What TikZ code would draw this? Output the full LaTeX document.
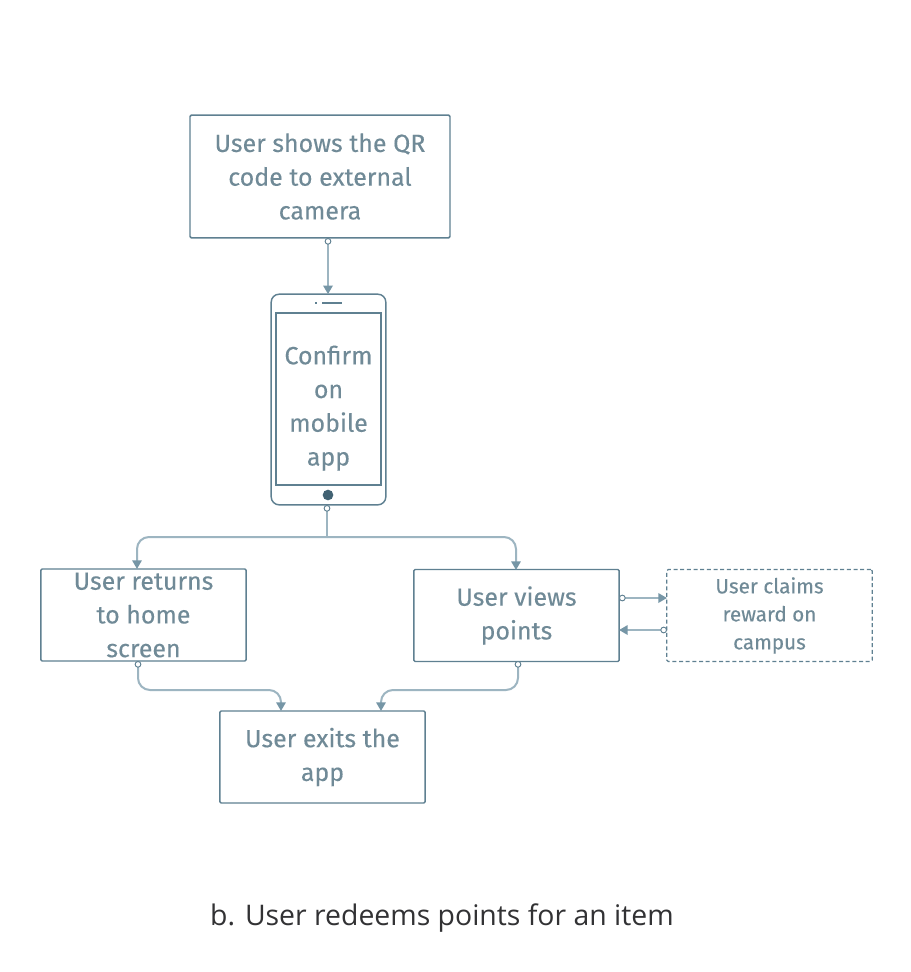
\documentclass[tikz,border=0pt]{standalone}
\usepackage{fontspec}
\setmainfont[FakeBold=0.2,AutoFakeBold=false]{Fira Sans}
\newfontfamily\captionfont{Open Sans}
\definecolor{edge}{RGB}{95,128,145}
\definecolor{wire}{RGB}{157,181,193}
\definecolor{tipc}{RGB}{118,150,166}
\definecolor{label}{RGB}{112,138,151}
\definecolor{ink}{RGB}{50,50,52}
\definecolor{knob}{RGB}{66,98,115}
\usetikzlibrary{arrows.meta,positioning,calc}
\tikzset{
  box/.style={draw=edge, rounded corners=1pt, line width=1.1pt, outer sep=0pt, inner sep=0pt,
              text=label, align=center, font=\fontsize{18.7}{25.3}\selectfont,
              minimum width=154pt, minimum height=69pt},
  ghost/.style={box, densely dashed, line width=0.9pt, font=\fontsize{15.5}{21}\selectfont},
  wireline/.style={wire, line width=1.5pt, rounded corners=9pt},
  flow/.style={wireline, {Circle[open,fill=white,length=5pt,width=5pt,color=edge,line width=0.7pt]}-{Triangle[length=6.5pt,width=7pt,color=tipc]}},
  branch/.style={wireline, -{Triangle[length=6.5pt,width=7pt,color=tipc]}},
}
\begin{document}
\begin{tikzpicture}[x=0.75pt,y=-0.75pt]
    \useasboundingbox[fill=white] (0,0) rectangle (911,972);
    \node[box,minimum width=195pt,minimum height=92pt] (qr) at (320,176.5) {User shows the QR\\ code to external\\ camera};
    \node[box,minimum width=86pt,minimum height=158pt,rounded corners=6pt] (phone) at (328.5,399.5) {};
    \node[box,minimum width=79pt,minimum height=129pt,rounded corners=0pt,text depth=0pt] (screen) at (328.5,399) {\\[-1.5pt]Confirm\\ on\\ mobile\\ app};
    \node[circle,fill=knob,minimum size=8pt,inner sep=0pt] (knobc) at (328,495) {};
    \coordinate (ear1) at (322,303);
    \coordinate (ear2) at (342,303);
    \coordinate (dot1) at (315,303);
    \coordinate (dot2) at (317,303);
    \draw[edge,line width=0.8pt] (ear1) -- (ear2);
    \draw[edge,line width=0.8pt] (dot1) -- (dot2);
    \node[box] (home) at (143.5,615) {User returns\\ to home\\ screen};
    \node[box] (views) at (516.5,615.5) {User views\\ points};
    \node[ghost] (claim) at (769.5,615.5) {User claims\\ reward on\\ campus};
    \node[box] (exit) at (322.5,757) {User exits the\\ app};
    \node[font=\captionfont\fontsize{21.3}{26}\selectfont,text=ink] (cap) at (442,918.5) {b. User redeems points for an item};
    \coordinate (homein) at (137,569);
    \coordinate (viewsin) at (516,570);
    \coordinate (homeout) at (138,661);
    \coordinate (viewsout) at (518,661);
    \coordinate (exitl) at (281,711);
    \coordinate (exitr) at (381,711);
    \coordinate (phoneout) at (327,505);
    \coordinate (fork) at (327,537);
    \coordinate (qrout) at (328,238);
    \coordinate (v1) at (619,598);
    \coordinate (c1) at (667,598);
    \coordinate (c2) at (667,630);
    \coordinate (v2) at (619,630);
    \draw[flow,line width=2pt] (qrout) -- (phone.north -| qrout);
    \draw[wireline,{Circle[open,fill=white,length=5pt,width=5pt,color=edge,line width=0.7pt]}-] (phoneout) -- (fork);
    \draw[branch] (fork) -| (homein);
    \draw[branch] (fork) -| (viewsin);
    \draw[flow] (homeout) -- ++(0,29) -| (exitl);
    \draw[flow] (viewsout) -- ++(0,29) -| (exitr);
    \draw[flow,line width=2pt] (v1) -- (c1);
    \draw[flow,line width=2pt] (c2) -- (v2);
\end{tikzpicture}
\end{document}
